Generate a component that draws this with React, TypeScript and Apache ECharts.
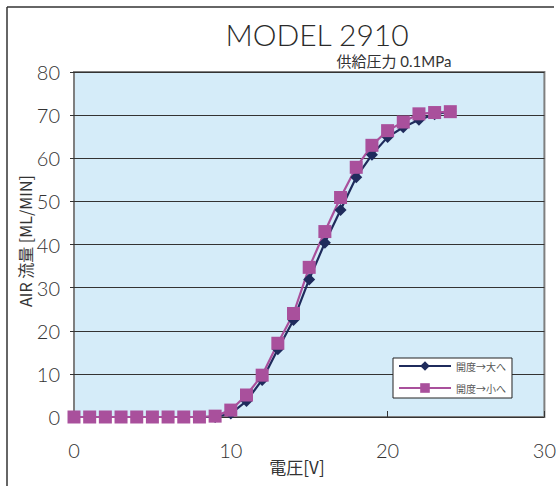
import React, { useEffect, useRef } from "react";
import * as echarts from "echarts";

const voltage = [0, 1, 2, 3, 4, 5, 6, 7, 8, 9, 10, 11, 12, 13, 14, 15, 16, 17, 18, 19, 20, 21, 22, 23, 24];
const flowUp = [0, 0, 0, 0, 0, 0, 0, 0, 0, 0, 0.8, 3.7, 8.6, 15.7, 22.5, 31.9, 40.4, 48.0, 55.6, 60.8, 64.9, 67.2, 68.9, 70.2, 70.8];
const flowDown = [0, 0, 0, 0, 0, 0, 0, 0, 0, 0.2, 1.6, 5.1, 9.7, 17.1, 24.0, 34.7, 43.0, 50.9, 57.9, 63.0, 66.4, 68.4, 70.3, 70.6, 70.8];
const seriesNames = ["開度→大へ", "開度→小へ"];
const titleText = "MODEL 2910";
const subtitleText = "供給圧力 0.1MPa";
const yAxisName = "AIR 流量 [ML/MIN]";
const xAxisName = "電圧[V]";

const NAVY = "#1f2b5c";
const PINK = "#a9509c";
const JFONT = "'Noto Sans CJK JP', 'Liberation Sans', sans-serif";
const TFONT = "Lato, 'Noto Sans CJK JP', 'Liberation Sans', sans-serif";

export default function App() {
  const ref = useRef<HTMLDivElement>(null);
  useEffect(() => {
    if (!ref.current) return;
    const chart = echarts.init(ref.current, undefined, { renderer: "svg" });
    chart.setOption({
      animation: false,
      backgroundColor: "#ffffff",
      grid: {
        left: 74,
        top: 72,
        right: 14,
        bottom: 69,
        show: true,
        backgroundColor: "#d5ecf9",
        borderColor: "#7f7f7f",
        borderWidth: 2,
      },
      xAxis: {
        type: "value",
        min: 0,
        max: 30,
        interval: 10,
        axisLine: { show: false },
        axisTick: { show: true, inside: true, length: 6, lineStyle: { color: "#333", width: 1 } },
        splitLine: { show: false },
        axisLabel: { color: "#333", fontSize: 20, fontFamily: TFONT, fontWeight: 300, margin: 23 },
      },
      yAxis: {
        type: "value",
        min: 0,
        max: 80,
        interval: 10,
        axisLine: { show: false },
        axisTick: { show: true, length: 4, lineStyle: { color: "#333", width: 1 } },
        splitLine: { show: true, lineStyle: { color: "#333", width: 1 } },
        axisLabel: { color: "#333", fontSize: 20, fontFamily: TFONT, fontWeight: 300, margin: 14 },
      },
      legend: {
        left: 393,
        top: 358,
        orient: "vertical",
        backgroundColor: "#ffffff",
        borderColor: "#222",
        borderWidth: 1,
        borderRadius: 0,
        padding: [3, 6, 5, 5],
        itemGap: 12,
        itemWidth: 52,
        itemHeight: 12,
        textStyle: { fontSize: 10, color: "#555", fontFamily: JFONT },
        data: seriesNames,
      },
      graphic: [
        { type: "line", shape: { x1: 7, y1: 7, x2: 554, y2: 7 }, style: { stroke: "#333", lineWidth: 1.5 } },
        { type: "line", shape: { x1: 7, y1: 7, x2: 7, y2: 486 }, style: { stroke: "#333", lineWidth: 1.5 } },
        {
          type: "text",
          x: 317,
          y: 34,
          style: { text: titleText, fontSize: 30, fontWeight: 300, fontFamily: TFONT, fill: "#2a2a2a", align: "center", verticalAlign: "middle" },
        },
        {
          type: "text",
          x: 394,
          y: 61,
          style: { text: subtitleText, fontSize: 15, fontFamily: TFONT, fill: "#333", align: "center", verticalAlign: "middle" },
        },
        {
          type: "text",
          x: 25,
          y: 241,
          rotation: Math.PI / 2,
          style: { text: yAxisName, fontSize: 16, fontFamily: JFONT, fill: "#333", align: "center", verticalAlign: "middle" },
        },
        {
          type: "text",
          x: 297,
          y: 466,
          style: { text: xAxisName, fontSize: 17, fontFamily: JFONT, fill: "#333", align: "center", verticalAlign: "middle" },
        },
      ],
      series: [
        {
          name: seriesNames[0],
          type: "line",
          data: voltage.map((v, i) => [v, flowUp[i]]),
          symbol: "diamond",
          symbolSize: 12,
          clip: false,
          color: NAVY,
          lineStyle: { color: NAVY, width: 2.2 },
          itemStyle: { color: NAVY },
        },
        {
          name: seriesNames[1],
          type: "line",
          data: voltage.map((v, i) => [v, flowDown[i]]),
          symbol: "rect",
          symbolSize: 13,
          clip: false,
          color: PINK,
          lineStyle: { color: PINK, width: 2.2 },
          itemStyle: { color: PINK },
        },
      ],
    });
    return () => chart.dispose();
  }, []);
  return <div ref={ref} style={{ position: "fixed", left: 0, top: 0, width: 559, height: 486 }} />;
}
